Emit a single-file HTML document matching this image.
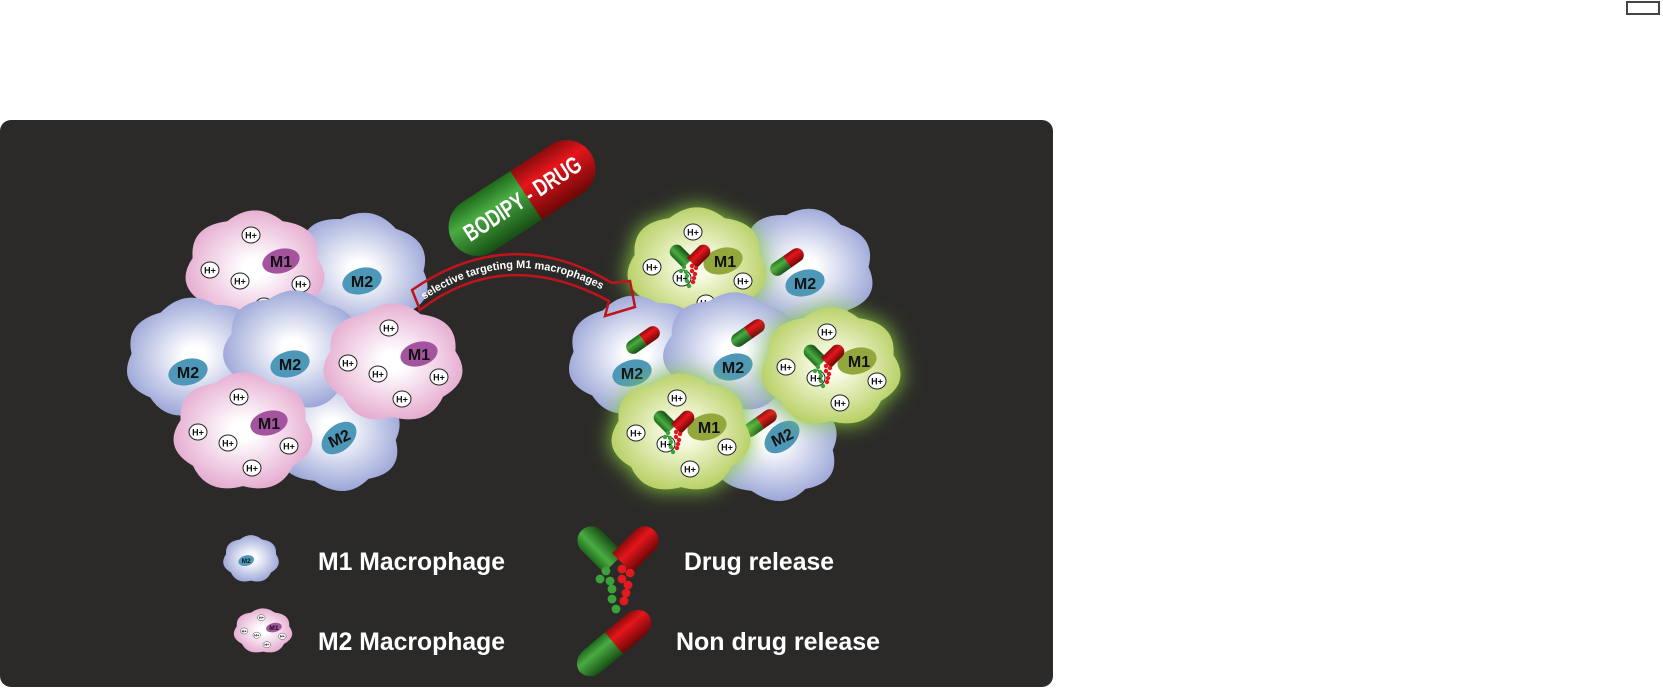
<!DOCTYPE html>
<html><head><meta charset="utf-8"><style>
html,body{margin:0;padding:0;background:#fff;}
svg{display:block;}
text{font-family:"Liberation Sans",Arial,sans-serif;font-weight:bold;}
</style></head><body>
<svg width="1663" height="696" viewBox="0 0 1663 696" xmlns="http://www.w3.org/2000/svg">
<defs>
<radialGradient id="gp" cx="0.5" cy="0.5" r="0.55"><stop offset="0.15" stop-color="#ffffff"/><stop offset="1" stop-color="#e4a6cd"/></radialGradient>
<radialGradient id="gb" cx="0.5" cy="0.5" r="0.55"><stop offset="0.15" stop-color="#ffffff"/><stop offset="1" stop-color="#95a1d5"/></radialGradient>
<radialGradient id="gg" cx="0.5" cy="0.5" r="0.55"><stop offset="0.15" stop-color="#fbfde9"/><stop offset="1" stop-color="#b3cd5c"/></radialGradient>
<linearGradient id="cg" x1="0" y1="0" x2="0" y2="1"><stop offset="0" stop-color="#1f6a1c"/><stop offset="0.35" stop-color="#4aab42"/><stop offset="1" stop-color="#174e15"/></linearGradient>
<linearGradient id="cr" x1="0" y1="0" x2="0" y2="1"><stop offset="0" stop-color="#8a0c0c"/><stop offset="0.35" stop-color="#e5161c"/><stop offset="1" stop-color="#6e0707"/></linearGradient>
<linearGradient id="hg" x1="0" y1="0" x2="1" y2="0"><stop offset="0" stop-color="#1f6a1c"/><stop offset="0.4" stop-color="#4aab42"/><stop offset="1" stop-color="#174e15"/></linearGradient>
<linearGradient id="hr" x1="0" y1="0" x2="1" y2="0"><stop offset="0" stop-color="#8a0c0c"/><stop offset="0.4" stop-color="#e5161c"/><stop offset="1" stop-color="#6e0707"/></linearGradient>
<filter id="glow" x="-40%" y="-40%" width="180%" height="180%">
<feFlood flood-color="#8ad23c" result="f"/><feComposite in="f" in2="SourceAlpha" operator="in" result="c"/><feGaussianBlur in="c" stdDeviation="11" result="b"/>
<feMerge><feMergeNode in="b"/><feMergeNode in="SourceGraphic"/></feMerge></filter>
<path id="blob" transform="scale(0.97,0.82)" d="M28.6,-59.5 Q67.2,-53.6 64.3,-14.7 Q83.8,19.1 51.6,41.2 Q37.3,77.5 0,66 Q-37.3,77.5 -51.6,41.2 Q-83.8,19.1 -64.3,-14.7 Q-67.2,-53.6 -28.6,-59.5 Q0,-86 28.6,-59.5 Z"/>
<g id="h"><ellipse rx="9" ry="8" fill="#fff" stroke="#222" stroke-width="1"/><text y="3.5" font-size="9" text-anchor="middle" fill="#111">H+</text></g>
<g id="hs"><use href="#h" x="-4" y="-35"/><use href="#h" x="-45" y="0"/><use href="#h" x="-15" y="11"/><use href="#h" x="46" y="14"/><use href="#h" x="9" y="36"/></g>
<g id="cap">
<path d="M0,-7 L-12,-7 A7,7 0 0 0 -12,7 L0,7 Z" fill="url(#cg)"/>
<path d="M0,-7 L12,-7 A7,7 0 0 1 12,7 L0,7 Z" fill="url(#cr)"/>
</g>
<g id="rel">
<path transform="translate(-2,0) rotate(-45)" d="M-7,0 L-7,-16 A7,7 0 0 1 7,-16 L7,0 Z" fill="url(#hg)"/>
<path transform="translate(2,0) rotate(45)" d="M-7,0 L-7,-16 A7,7 0 0 1 7,-16 L7,0 Z" fill="url(#hr)"/>
<g fill="#3aa23a"><circle cx="-6" cy="4" r="2.2"/><circle cx="-9" cy="8" r="2.2"/><circle cx="-4" cy="9" r="2.2"/><circle cx="-3" cy="13" r="2.2"/><circle cx="-3" cy="18" r="2.2"/><circle cx="-1" cy="23" r="2.2"/></g>
<g fill="#e01a1e"><circle cx="2" cy="3" r="2.2"/><circle cx="6" cy="5" r="2.2"/><circle cx="2" cy="8" r="2.2"/><circle cx="5" cy="11" r="2.2"/><circle cx="4" cy="15" r="2.2"/><circle cx="3" cy="19" r="2.2"/></g>
</g>
<g id="pink"><use href="#blob" fill="url(#gp)"/>
<ellipse cx="26" cy="-9" rx="19" ry="12" transform="rotate(-15 26 -9)" fill="#a4549e"/>
<text x="26" y="-3" font-size="16" text-anchor="middle" fill="#111">M1</text><use href="#hs"/></g>
<g id="green"><use href="#blob" fill="url(#gg)" filter="url(#glow)"/>
<ellipse cx="26" cy="-6" rx="20" ry="13" transform="rotate(-15 26 -6)" fill="#93a83c"/>
<text x="28" y="0" font-size="16" text-anchor="middle" fill="#111">M1</text><use href="#hs"/>
<use href="#rel" x="-7" y="-4"/></g>
<g id="m2"><ellipse rx="20" ry="13" transform="rotate(-15)" fill="#4d97b8"/><text y="6" font-size="16" text-anchor="middle" fill="#111">M2</text></g>
</defs>

<rect x="1627" y="2" width="32" height="12" fill="#fff" stroke="#444" stroke-width="2"/>
<rect x="0" y="120" width="1053" height="567" rx="11" fill="#2b2a28"/>

<!-- left cluster -->
<use href="#blob" fill="url(#gb)" transform="translate(360,272) rotate(10)"/><use href="#m2" x="362" y="281"/>
<use href="#pink" x="255" y="270"/>
<use href="#blob" fill="url(#gb)" transform="translate(195,357) rotate(-8)"/><use href="#m2" x="188" y="372"/>
<use href="#blob" fill="url(#gb)" transform="translate(333,430) rotate(20)"/><g transform="translate(339,438) rotate(-25)"><use href="#m2"/></g>
<use href="#blob" fill="url(#gb)" transform="translate(293,350) rotate(4)"/><use href="#m2" x="290" y="364"/>
<use href="#pink" x="243" y="432"/>
<use href="#pink" x="393" y="363"/>

<!-- right cluster -->
<use href="#blob" fill="url(#gb)" transform="translate(805,268) rotate(10)"/><use href="#m2" x="805" y="283"/><use href="#cap" transform="translate(787,262) rotate(-35)"/>
<use href="#green" x="697" y="267"/>
<use href="#blob" fill="url(#gb)" transform="translate(637,355) rotate(-8)"/><use href="#m2" x="632" y="373"/><use href="#cap" transform="translate(643,340) rotate(-35)"/>
<use href="#blob" fill="url(#gb)" transform="translate(770,440) rotate(20)"/><g transform="translate(782,437) rotate(-25)"><use href="#m2"/></g><use href="#cap" transform="translate(760,423) rotate(-35)"/>
<use href="#blob" fill="url(#gb)" transform="translate(733,352) rotate(4)"/><use href="#m2" x="733" y="367"/><use href="#cap" transform="translate(748,333) rotate(-35)"/>
<use href="#green" x="681" y="433"/>
<use href="#green" x="831" y="367"/>

<!-- big capsule -->
<g transform="translate(522,198) rotate(-33)">
<path d="M5,-29 L-53,-29 A29,29 0 0 0 -53,29 L5,29 Z" fill="url(#cg)"/>
<path d="M5,-29 L53,-29 A29,29 0 0 1 53,29 L5,29 Z" fill="url(#cr)"/>
<text x="0" y="9" font-size="24" text-anchor="middle" fill="#fff" textLength="135" lengthAdjust="spacingAndGlyphs">BODIPY - DRUG</text>
</g>

<!-- arrow -->
<path d="M412,290 Q510,222 612,283 L630,281 L635,307 L605,316 L609,301 Q505,245 420,310 Z" fill="none" stroke="#c0141c" stroke-width="2.5" stroke-linejoin="miter"/>
<path id="ap" d="M418,304 Q510,238 608,293" fill="none"/>
<text font-size="11" fill="#fff"><textPath href="#ap" startOffset="50%" text-anchor="middle" textLength="188" lengthAdjust="spacingAndGlyphs">selective targeting M1 macrophages</textPath></text>

<!-- legend -->
<g transform="translate(251,559) scale(0.4,0.4)"><use href="#blob" fill="url(#gb)"/><g transform="translate(-12,4)"><use href="#m2"/></g></g>
<g transform="translate(263,631) scale(0.42,0.38)"><use href="#pink"/></g>
<text x="318" y="570" font-size="25" fill="#fff" textLength="187" lengthAdjust="spacingAndGlyphs">M1 Macrophage</text>
<text x="318" y="650" font-size="25" fill="#fff" textLength="187" lengthAdjust="spacingAndGlyphs">M2 Macrophage</text>
<g transform="translate(618,563) scale(2)"><use href="#rel"/></g>
<g transform="translate(614,643) rotate(-40) scale(2.35,2)"><use href="#cap"/></g>
<text x="684" y="570" font-size="25" fill="#fff" textLength="150" lengthAdjust="spacingAndGlyphs">Drug release</text>
<text x="676" y="650" font-size="25" fill="#fff" textLength="204" lengthAdjust="spacingAndGlyphs">Non drug release</text>
</svg>
</body></html>
